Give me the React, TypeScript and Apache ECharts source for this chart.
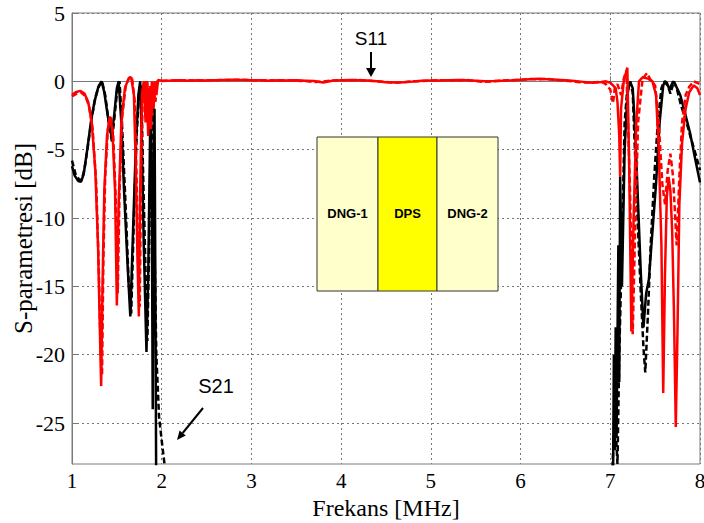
import React, { useEffect, useRef } from "react";
import * as echarts from "echarts";

// ---- Data (frequency in MHz, S-parameters in dB) ----
const yTickValues = [-25, -20, -15, -10, -5, 0, 5];

// S21, configuration A (black solid)
const s21A: number[][] = [
  [1.0, -6.2], [1.03, -6.9], [1.07, -7.3], [1.10, -7.35], [1.13, -6.8], [1.17, -5.0], [1.21, -3.0],
  [1.25, -1.5], [1.29, -0.5], [1.33, 0], [1.36, -0.8], [1.40, -2.6], [1.44, -4.0], [1.47, -2.5],
  [1.50, -0.5], [1.52, 0], [1.55, -3], [1.58, -8], [1.62, -13.5], [1.65, -17.2], [1.68, -11],
  [1.71, -5], [1.74, -1], [1.76, 0], [1.78, -5], [1.80, -12], [1.83, -19.8], [1.85, -14], [1.87, -4],
  [1.88, -0.5], [1.89, -10], [1.90, -24], [1.91, -8], [1.92, -2], [1.93, -16], [1.94, -32], [1.96, -45],
  [7.0, -45], [7.03, -30], [7.04, -20], [7.05, -27], [7.06, -18], [7.07, -26], [7.09, -12], [7.10, -22],
  [7.11, -7], [7.13, -15], [7.16, -5], [7.19, -1], [7.22, 0], [7.25, -0.5], [7.28, -4], [7.31, -9],
  [7.34, -14], [7.37, -18], [7.40, -15.5], [7.43, -14.5], [7.47, -11], [7.51, -7.5], [7.55, -3],
  [7.59, -0.3], [7.61, 0], [7.63, -0.1], [7.66, -0.6], [7.70, 0], [7.73, -0.3], [7.78, -1],
  [7.84, -2.5], [7.89, -3.8], [7.95, -5.8], [8.0, -7.4],
];

// S21, configuration B (black dashed)
const s21B: number[][] = [
  [1.0, -5.8], [1.04, -6.8], [1.08, -7.2], [1.11, -7.2], [1.14, -6.4], [1.18, -4.6], [1.22, -2.7],
  [1.26, -1.2], [1.30, -0.3], [1.335, 0], [1.37, -1.0], [1.41, -3.0], [1.445, -4.4], [1.48, -2.2],
  [1.51, -0.3], [1.53, 0], [1.56, -3.5], [1.60, -9.5], [1.63, -14.5], [1.66, -17.0], [1.69, -10],
  [1.72, -4], [1.75, -0.5], [1.77, -0.2], [1.79, -6], [1.82, -14], [1.84, -19], [1.86, -12], [1.88, -3],
  [1.90, -1], [1.92, -12], [1.94, -20], [1.97, -24.5], [2.0, -26.3], [2.04, -28.5], [2.06, -45],
  [6.98, -45], [7.02, -29], [7.05, -24], [7.08, -28], [7.10, -20], [7.13, -12], [7.16, -3], [7.19, -0.5],
  [7.22, 0], [7.25, -0.8], [7.28, -6], [7.31, -11], [7.34, -15.5], [7.37, -19.5], [7.39, -21.3],
  [7.42, -17], [7.45, -12], [7.49, -7], [7.53, -3], [7.57, -0.5], [7.60, 0], [7.64, -0.3], [7.67, -0.9],
  [7.71, 0], [7.74, -0.5], [7.79, -1.8], [7.85, -3.0], [7.90, -4.2], [7.95, -5.3], [8.0, -6.5],
];

// S11, configuration A (red solid) - edges
const s11ALeft: number[][] = [
  [1.0, -1.0], [1.04, -0.8], [1.09, -0.7], [1.14, -0.9], [1.18, -1.5], [1.22, -3], [1.26, -6.5],
  [1.29, -12], [1.31, -18], [1.325, -22.3], [1.34, -15], [1.36, -8], [1.39, -4], [1.42, -2.6],
  [1.45, -3.5], [1.48, -8], [1.50, -16.4], [1.52, -9], [1.55, -3], [1.59, -0.5], [1.63, 0.2],
  [1.66, 0.3], [1.69, -1], [1.71, -6], [1.73, -13], [1.745, -17.2], [1.76, -8], [1.78, -1], [1.80, 0],
  [1.82, -3], [1.83, 0], [1.85, -4], [1.86, -0.5], [1.88, -3.5], [1.89, 0], [1.91, -2], [1.92, 0],
  [1.94, -1], [1.96, 0.1],
];
const s11ARight: number[][] = [
  [6.95, 0], [7.0, -0.1], [7.03, -0.3], [7.06, -0.5], [7.08, -1.5], [7.10, -4], [7.11, -7], [7.12, -2],
  [7.15, 0], [7.19, 1.0], [7.21, -6], [7.235, -18.3], [7.26, -10], [7.29, -3], [7.32, 0], [7.36, 0.3],
  [7.42, 0.2], [7.47, 0], [7.51, -1], [7.54, -5], [7.57, -12], [7.59, -22.8], [7.61, -14], [7.63, -8.5],
  [7.65, -7], [7.67, -8], [7.69, -11], [7.71, -17], [7.73, -25.3], [7.75, -18], [7.77, -9], [7.80, -4.5],
  [7.84, -2], [7.88, -0.8], [7.93, -0.3], [7.97, -0.5], [8.0, -1.0],
];

// S11, configuration B (red dashed) - edges
const s11BLeft: number[][] = [
  [1.0, -1.1], [1.05, -0.9], [1.10, -0.8], [1.15, -1.1], [1.19, -1.8], [1.23, -3.5], [1.27, -7.5],
  [1.30, -14], [1.32, -20], [1.335, -21.5], [1.35, -13], [1.37, -7], [1.40, -3.5], [1.43, -2.5],
  [1.46, -4], [1.49, -9], [1.51, -15.5], [1.53, -8], [1.56, -2.5], [1.60, -0.3], [1.64, 0.3],
  [1.67, 0.2], [1.70, -1.5], [1.72, -7], [1.74, -14], [1.755, -16.5], [1.77, -7], [1.79, -0.5],
  [1.81, 0], [1.83, -2.5], [1.84, 0], [1.86, -3], [1.87, -0.3], [1.89, -2.5], [1.90, 0], [1.93, -1.5],
  [1.95, 0], [1.98, 0.1],
];
const s11BRight: number[][] = [
  [6.95, -0.2], [7.0, -0.6], [7.03, -1.6], [7.05, -0.5], [7.08, -0.2], [7.12, -1], [7.15, 0.2],
  [7.18, 0.8], [7.22, -8], [7.25, -18.5], [7.28, -10], [7.31, -3], [7.36, 0.2], [7.41, 0.6], [7.45, 0.1],
  [7.50, -0.3], [7.54, -3], [7.58, -7.5], [7.61, -9], [7.64, -6.5], [7.67, -5.3], [7.70, -7], [7.74, -12],
  [7.77, -7], [7.80, -3], [7.84, -1], [7.88, -0.4], [7.93, 0], [8.0, -0.2],
];

// S11 stop-band ripple (both configurations)
const midFreq = [
  2.0, 2.1, 2.2, 2.3, 2.4, 2.5, 2.6, 2.7, 2.8, 2.9, 3.0, 3.1, 3.2, 3.3, 3.4, 3.5, 3.6, 3.7, 3.8, 3.9,
  4.0, 4.1, 4.2, 4.3, 4.4, 4.5, 4.6, 4.7, 4.8, 4.9, 5.0, 5.1, 5.2, 5.3, 5.4, 5.5, 5.6, 5.7, 5.8, 5.9,
  6.0, 6.1, 6.2, 6.3, 6.4, 6.5, 6.6, 6.7, 6.8, 6.9,
];
const midS11A = [
  0.05, 0.06, 0.08, 0.05, 0.08, 0.06, 0.08, 0.1, 0.12, 0.1, 0.08, 0.08, 0.05, 0.08, 0.06, 0.08, 0.05, 0.02, -0.08, 0.05,
  0.08, 0.1, 0.08, 0.06, 0.0, -0.06, -0.08, -0.06, -0.02, 0.04, 0.06, 0.06, 0.08, 0.1, 0.08, 0.05, 0.0, 0.02, 0.05, 0.08,
  0.12, 0.15, 0.18, 0.15, 0.12, 0.08, 0.02, -0.04, -0.1, -0.05,
];
const midS11B = [
  0.02, 0.05, 0.06, 0.08, 0.05, 0.08, 0.08, 0.1, 0.1, 0.12, 0.08, 0.06, 0.08, 0.05, 0.08, 0.05, 0.02, -0.05, -0.02, 0.06,
  0.08, 0.08, 0.1, 0.05, 0.0, -0.04, -0.1, -0.06, 0.0, 0.02, 0.06, 0.08, 0.08, 0.08, 0.1, 0.02, -0.04, 0.0, 0.06, 0.08,
  0.1, 0.18, 0.15, 0.18, 0.1, 0.04, -0.02, -0.08, -0.08, -0.03,
];

const layers = ["DNG-1", "DPS", "DNG-2"];

const s11A = [...s11ALeft, ...midFreq.map((f, i) => [f, midS11A[i]]), ...s11ARight];
const s11B = [...s11BLeft, ...midFreq.map((f, i) => [f, midS11B[i]]), ...s11BRight];

const serif = "'Liberation Serif', 'Times New Roman', serif";
const sans = "'Liberation Sans', Arial, sans-serif";

export default function App() {
  const ref = useRef<HTMLDivElement>(null);
  useEffect(() => {
    document.body.style.margin = "0";
    const chart = echarts.init(ref.current!, undefined, { renderer: "svg" });
    const lineCommon = { type: "line", showSymbol: false, symbol: "none", clip: true, smooth: false };
    const boxX = 317, boxY = 137, boxH = 154;
    const widths = [61, 59, 61];
    const fills = ["#FFFFCC", "#FFFF00", "#FFFFCC"];
    let cx = boxX;
    const boxEls: any[] = [];
    layers.forEach((name, i) => {
      boxEls.push({
        type: "rect", z: 100,
        shape: { x: cx, y: boxY, width: widths[i], height: boxH },
        style: { fill: fills[i], stroke: "#333", lineWidth: 1 },
      });
      boxEls.push({
        type: "text", z: 101,
        x: cx + widths[i] / 2, y: 213,
        style: { text: name, fill: "#000", font: `bold 13px ${sans}`, align: "center", verticalAlign: "middle" },
      });
      cx += widths[i];
    });
    chart.setOption({
      animation: false,
      backgroundColor: "#fff",
      grid: {
        left: 72, right: 4, top: 13, bottom: 59, show: true, borderColor: "#7a7a7a", borderWidth: 1,
        backgroundColor: "#fff", containLabel: false, outerBoundsMode: "none",
      },
      xAxis: {
        type: "value", min: 1, max: 8, interval: 1,
        name: "Frekans [MHz]", nameLocation: "middle", nameGap: 32, nameMoveOverlap: false,
        nameTextStyle: { fontFamily: serif, fontSize: 24, color: "#000" },
        axisLine: { show: true, lineStyle: { color: "#7a7a7a" } },
        axisTick: { show: true, inside: true, length: 5, lineStyle: { color: "#7a7a7a" } },
        axisLabel: { fontFamily: serif, fontSize: 21, color: "#000", margin: 6, hideOverlap: false },
        splitLine: { show: true, lineStyle: { color: "#777", type: [2, 3], width: 1 } },
      },
      yAxis: {
        type: "value", min: -28, max: 5,
        name: "S-parametresi [dB]", nameLocation: "middle", nameGap: 36, nameMoveOverlap: false,
        nameTextStyle: { fontFamily: serif, fontSize: 25, color: "#000" },
        axisLine: { show: true, lineStyle: { color: "#7a7a7a" } },
        axisTick: { show: true, inside: true, length: 5, lineStyle: { color: "#7a7a7a" }, customValues: yTickValues },
        axisLabel: { fontFamily: serif, fontSize: 22, color: "#000", margin: 7, customValues: yTickValues },
        splitLine: { show: true, lineStyle: { color: "#777", type: [2, 3], width: 1 } },
      },
      series: [
        { ...lineCommon, name: "S21 B", data: s21B, lineStyle: { color: "#000", width: 2.5, type: [6, 3] }, z: 2 },
        { ...lineCommon, name: "S21 A", data: s21A, lineStyle: { color: "#000", width: 2.5 }, z: 3 },
        { ...lineCommon, name: "S11 B", data: s11B, lineStyle: { color: "#ff0000", width: 2.5, type: [6, 3] }, z: 4 },
        { ...lineCommon, name: "S11 A", data: s11A, lineStyle: { color: "#ff0000", width: 2.5 }, z: 5 },
      ],
      graphic: [
        ...boxEls,
        { type: "text", z: 100, x: 371, y: 38, style: { text: "S11", fill: "#000", font: `19px ${sans}`, align: "center", verticalAlign: "middle" } },
        { type: "line", z: 100, shape: { x1: 371, y1: 52, x2: 371, y2: 70 }, style: { stroke: "#000", lineWidth: 2 } },
        { type: "polygon", z: 100, shape: { points: [[366, 68], [376, 68], [371, 77]] }, style: { fill: "#000" } },
        { type: "text", z: 100, x: 216, y: 386, style: { text: "S21", fill: "#000", font: `20px ${sans}`, align: "center", verticalAlign: "middle" } },
        { type: "line", z: 100, shape: { x1: 203, y1: 408, x2: 182.7, y2: 433 }, style: { stroke: "#000", lineWidth: 2 } },
        { type: "polygon", z: 100, shape: { points: [[177, 440], [185.8, 435.5], [179.6, 430.5]] }, style: { fill: "#000" } },
      ],
    });
    return () => chart.dispose();
  }, []);
  return <div ref={ref} style={{ width: 704, height: 523, position: "absolute", left: 0, top: 0 }} />;
}
